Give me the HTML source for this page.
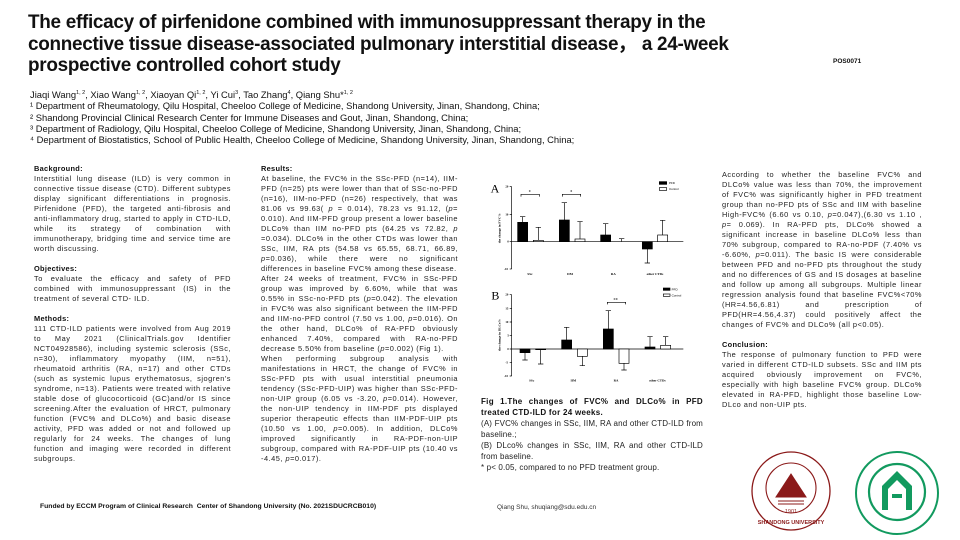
<!DOCTYPE html>
<html><head><meta charset="utf-8"><style>
*{margin:0;padding:0;box-sizing:border-box}
body{width:960px;height:540px;background:#fff;position:relative;overflow:hidden;font-family:"Liberation Sans",Arial,sans-serif;color:#111}
.t{position:absolute;left:28px;top:12px;font-size:19.5px;font-weight:bold;line-height:21.5px;transform:scaleX(0.97);transform-origin:0 0;white-space:nowrap;letter-spacing:-0.3px}
.a{position:absolute;left:30px;top:88px;font-size:9.4px;line-height:11.3px;white-space:nowrap;transform:scaleX(1.0);transform-origin:0 0}
.col{position:absolute;font-size:7.4px;line-height:10px;text-align:justify;letter-spacing:0.5px;color:#222}
.col b{font-weight:bold;color:#111;letter-spacing:0.3px}
p{margin-bottom:10px}
</style></head><body>
<div class="t">The efficacy of pirfenidone combined with immunosuppressant therapy in the<br>connective tissue disease-associated pulmonary interstitial disease， a 24-week<br>prospective controlled cohort study</div>
<div style="position:absolute;left:833px;top:58px;font-size:6.5px;font-weight:bold">POS0071</div>
<div class="a">Jiaqi Wang<sup style="font-size:5.5px">1, 2</sup>, Xiao Wang<sup style="font-size:5.5px">1, 2</sup>, Xiaoyan Qi<sup style="font-size:5.5px">1, 2</sup>, Yi Cui<sup style="font-size:5.5px">3</sup>, Tao Zhang<sup style="font-size:5.5px">4</sup>, Qiang Shu*<sup style="font-size:5.5px">1, 2</sup><br>
¹ Department of Rheumatology, Qilu Hospital, Cheeloo College of Medicine, Shandong University, Jinan, Shandong, China;<br>
² Shandong Provincial Clinical Research Center for Immune Diseases and Gout, Jinan, Shandong, China;<br>
³ Department of Radiology, Qilu Hospital, Cheeloo College of Medicine, Shandong University, Jinan, Shandong, China;<br>
⁴ Department of Biostatistics, School of Public Health, Cheeloo College of Medicine, Shandong University, Jinan, Shandong, China;</div>

<div class="col" style="left:34px;top:164px;width:197px">
<p><b>Background:</b><br>Interstitial lung disease (ILD) is very common in connective tissue disease (CTD). Different subtypes display significant differentiations in prognosis. Pirfenidone (PFD), the targeted anti-fibrosis and anti-inflammatory drug, started to apply in CTD-ILD, while its strategy of combination with immunotherapy, bridging time and service time are worth discussing.</p>
<p><b>Objectives:</b><br>To evaluate the efficacy and safety of PFD combined with immunosuppressant (IS) in the treatment of several CTD- ILD.</p>
<p><b>Methods:</b><br>111 CTD-ILD patients were involved from Aug 2019 to May 2021 (ClinicalTrials.gov Identifier NCT04928586), including systemic sclerosis (SSc, n=30), inflammatory myopathy (IIM, n=51), rheumatoid arthritis (RA, n=17) and other CTDs (such as systemic lupus erythematosus, sjogren's syndrome, n=13). Patients were treated with relative stable dose of glucocorticoid (GC)and/or IS since screening.After the evaluation of HRCT, pulmonary function (FVC% and DLCo%) and basic disease activity, PFD was added or not and followed up regularly for 24 weeks. The changes of lung function and imaging were recorded in different subgroups.</p>
</div>

<div class="col" style="left:261px;top:164px;width:197px">
<b>Results:</b><br>At baseline, the FVC% in the SSc-PFD (n=14), IIM-PFD (n=25) pts were lower than that of SSc-no-PFD (n=16), IIM-no-PFD (n=26) respectively, that was 81.06 vs 99.63( <i>p</i> = 0.014), 78.23 vs 91.12, (<i>p</i>= 0.010). And IIM-PFD group present a lower baseline DLCo% than IIM no-PFD pts (64.25 vs 72.82, <i>p</i> =0.034). DLCo% in the other CTDs was lower than SSc, IIM, RA pts (54.58 vs 65.55, 68.71, 66.89, <i>p</i>=0.036), while there were no significant differences in baseline FVC% among these disease.<br>After 24 weeks of treatment, FVC% in SSc-PFD group was improved by 6.60%, while that was 0.55% in SSc-no-PFD pts (<i>p</i>=0.042). The elevation in FVC% was also significant between the IIM-PFD and IIM-no-PFD control (7.50 vs 1.00, <i>p</i>=0.016). On the other hand, DLCo% of RA-PFD obviously enhanced 7.40%, compared with RA-no-PFD decrease 5.50% from baseline (<i>p</i>=0.002) (Fig 1).<br>When performing subgroup analysis with manifestations in HRCT, the change of FVC% in SSc-PFD pts with usual interstitial pneumonia tendency (SSc-PFD-UIP) was higher than SSc-PFD-non-UIP group (6.05 vs -3.20, <i>p</i>=0.014). However, the non-UIP tendency in IIM-PDF pts displayed superior therapeutic effects than IIM-PDF-UIP pts (10.50 vs 1.00, <i>p</i>=0.005). In addition, DLCo% improved significantly in RA-PDF-non-UIP subgroup, compared with RA-PDF-UIP pts (10.40 vs -4.45, <i>p</i>=0.017).
</div>

<svg style="position:absolute;left:0;top:0" width="960" height="540">
<g transform="translate(470,160) scale(0.33333)" font-family="Liberation Serif,serif" font-size="11" stroke-width="2">
<text x="62" y="98" font-size="36">A</text>
<text transform="translate(92,205) rotate(-90)" text-anchor="middle" font-size="10" font-weight="bold">the change in FVC%</text>
<g stroke="#000" fill="none">
<line x1="125" y1="80" x2="125" y2="327"/>
<line x1="119" y1="80" x2="125" y2="80"/><line x1="119" y1="163" x2="125" y2="163"/><line x1="119" y1="245" x2="125" y2="245"/><line x1="119" y1="327" x2="125" y2="327"/>
<line x1="125" y1="245" x2="640" y2="245"/>
<path d="M158 187V170M150 170h16M205 241V202M197 202h16M283 180V128M275 128h16M330 237V185M322 185h16M407 225V191M399 191h16M455 244V236M447 236h16M532 267V309M524 309h16M578 225V181M570 181h16"/>
<path d="M153 110V103H208V110M277 110V103H332V110"/>
</g>
<g stroke="#000">
<rect x="143" y="187" width="30" height="58" fill="#000"/><rect x="190" y="241" width="30" height="4" fill="#fff"/>
<rect x="268" y="180" width="30" height="65" fill="#000"/><rect x="315" y="237" width="30" height="8" fill="#fff"/>
<rect x="392" y="225" width="30" height="20" fill="#000"/>
<rect x="517" y="245" width="30" height="22" fill="#000"/><rect x="563" y="225" width="30" height="20" fill="#fff"/>
<rect x="568" y="65" width="22" height="8" fill="#000"/><rect x="568" y="83" width="22" height="8" fill="#fff"/>
</g>
<g font-size="9" font-weight="bold"><text x="106" y="83">20</text><text x="106" y="166">10</text><text x="112" y="248">0</text><text x="102" y="330">-10</text></g>
<text x="176" y="100" font-size="14">*</text><text x="300" y="100" font-size="14">*</text>
<g font-size="10" font-weight="bold" text-anchor="middle"><text x="180" y="345">SSc</text><text x="300" y="345">IIM</text><text x="430" y="345">RA</text><text x="555" y="345">other CTDs</text></g>
<g font-family="Liberation Sans" font-size="9"><text x="597" y="72">PFD</text><text x="597" y="90">Control</text></g>

<text x="64" y="418" font-size="36">B</text>
<text transform="translate(92,525) rotate(-90)" text-anchor="middle" font-size="10" font-weight="bold">the change in DLCo%</text>
<g stroke="#000" fill="none">
<line x1="125" y1="404" x2="125" y2="648"/>
<path d="M119 404h6M119 445h6M119 486h6M119 527h6M119 567h6M119 607h6M119 648h6"/>
<line x1="125" y1="567" x2="640" y2="567"/>
<path d="M165 578V600M157 600h16M212 569V612M204 612h16M290 540V502M282 502h16M337 589V617M329 617h16M415 507V452M407 452h16M462 610V630M454 630h16M540 561V530M532 530h16M587 556V530M579 530h16"/>
<path d="M412 433V427H467V433"/>
</g>
<g stroke="#000">
<rect x="150" y="567" width="30" height="11" fill="#000"/><rect x="197" y="567" width="30" height="2" fill="#fff"/>
<rect x="275" y="540" width="30" height="27" fill="#000"/><rect x="322" y="567" width="30" height="22" fill="#fff"/>
<rect x="400" y="507" width="30" height="60" fill="#000"/><rect x="447" y="567" width="30" height="43" fill="#fff"/>
<rect x="525" y="561" width="30" height="6" fill="#000"/><rect x="572" y="556" width="30" height="11" fill="#fff"/>
<rect x="580" y="384" width="20" height="7" fill="#000"/><rect x="580" y="402" width="20" height="7" fill="#fff"/>
</g>
<g font-size="9" font-weight="bold"><text x="106" y="407">20</text><text x="106" y="448">15</text><text x="106" y="489">10</text><text x="112" y="530">5</text><text x="112" y="570">0</text><text x="106" y="610">-5</text><text x="102" y="651">-10</text></g>
<text x="430" y="424" font-size="14">**</text>
<g font-size="10" font-weight="bold" text-anchor="middle"><text x="185" y="665">SSc</text><text x="310" y="665">IIM</text><text x="438" y="665">RA</text><text x="562" y="665">other CTDs</text></g>
<g font-family="Liberation Sans" font-size="9"><text x="605" y="391">PFD</text><text x="605" y="409">Control</text></g>
</g>
<!-- logos -->
<g fill="none" stroke="#8b1a1a"><circle cx="791" cy="491" r="39" stroke-width="1.3"/><circle cx="791" cy="488" r="25" stroke-width="1.1"/></g>
<path d="M776 497L791 474L806 497ZM778 501h26M778 504h26" fill="#8b1a1a" stroke="#8b1a1a" stroke-width="1"/>
<text x="791" y="513" font-size="5.5" text-anchor="middle" fill="#8b1a1a">1901</text>
<text x="791" y="524" font-size="5.5" font-weight="bold" text-anchor="middle" fill="#8b1a1a">SHANDONG UNIVERSITY</text>
<g fill="none" stroke="#129a5f"><circle cx="897" cy="493" r="41" stroke-width="2"/><circle cx="897" cy="492" r="28" stroke-width="2.2"/></g>
<path d="M882 510V486L897 471L912 486V510H906V489L897 480L888 489V510Z" fill="#129a5f"/>
<rect x="892" y="494" width="10" height="4" fill="#129a5f"/>
</svg>

<div class="col" style="left:481px;top:396px;width:222px;font-size:8px;line-height:11px;letter-spacing:0.15px">
<b>Fig 1.The changes of FVC% and DLCo% in PFD treated CTD-ILD for 24 weeks.</b><br>(A) FVC% changes in SSc, IIM, RA and other CTD-ILD from baseline.;<br>(B) DLco% changes in SSc, IIM, RA and other CTD-ILD from baseline.<br>* p&lt; 0.05, compared to no PFD treatment group.
</div>

<div class="col" style="left:722px;top:170px;width:200px">
<p>According to whether the baseline FVC% and DLCo% value was less than 70%, the improvement of FVC% was significantly higher in PFD treatment group than no-PFD pts of SSc and IIM with baseline High-FVC% (6.60 vs 0.10, <i>p</i>=0.047),(6.30 vs 1.10 , <i>p</i>= 0.069). In RA-PFD pts, DLCo% showed a significant increase in baseline DLCo% less than 70% subgroup, compared to RA-no-PDF (7.40% vs -6.60%, <i>p</i>=0.011). The basic IS were considerable between PFD and no-PFD pts throughout the study and no differences of GS and IS dosages at baseline and follow up among all subgroups. Multiple linear regression analysis found that baseline FVC%&lt;70%(HR=4.56,6.81) and prescription of PFD(HR=4.56,4.37) could positively affect the changes of FVC% and DLCo% (all p&lt;0.05).</p>
<p><b>Conclusion:</b><br>The response of pulmonary function to PFD were varied in different CTD-ILD subsets. SSc and IIM pts acquired obviously improvement on FVC%, especially with high baseline FVC% group. DLCo% elevated in RA-PFD, highlight those baseline Low-DLco and non-UIP pts.</p>
</div>

<div style="position:absolute;left:40px;top:503px;font-size:6.8px;font-weight:bold">Funded by ECCM Program of Clinical Research &nbsp;Center of Shandong University (No. 2021SDUCRCB010)</div>
<div style="position:absolute;left:497px;top:504px;font-size:6.5px;color:#333">Qiang Shu, shuqiang@sdu.edu.cn</div>
</body></html>
